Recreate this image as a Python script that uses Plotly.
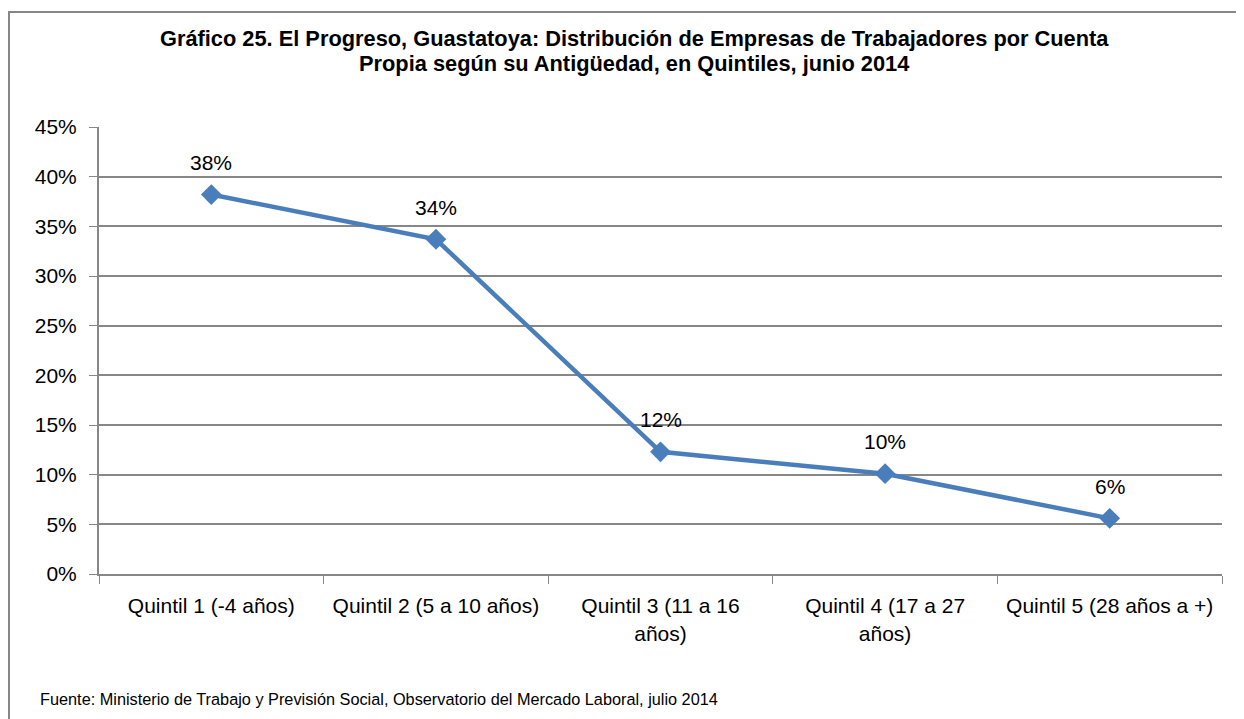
import plotly.graph_objects as go

categories = ["Quintil 1 (-4 años)", "Quintil 2 (5 a 10 años)", "Quintil 3 (11 a 16<br>años)",
              "Quintil 4 (17 a 27<br>años)", "Quintil 5 (28 años a +)"]
values = [0.382, 0.337, 0.123, 0.101, 0.056]
labels = ["38%", "34%", "12%", "10%", "6%"]

title_lines = ["<b>Gráfico 25. El Progreso, Guastatoya: Distribución de Empresas de Trabajadores por Cuenta</b>",
               "<b>Propia según su Antigüedad, en Quintiles, junio 2014</b>"]
source = "Fuente: Ministerio de Trabajo y Previsión Social, Observatorio del Mercado Laboral, julio 2014"

FONT = "Liberation Sans Narrow, Arial Narrow, Liberation Sans, Arial, sans-serif"
OFF = 8  # page body margin
W, H = 1236, 711
# screen coordinates of plot area
SL, SR, ST, SB = 99, 1222, 127, 574
L, T = SL - OFF, ST - OFF
R = W - (SR - OFF)
B = H - (SB - OFF)

pw = W - L - R
ph = H - T - B
def px(x): return (x - OFF - L) / pw
def py(y): return (H - B - (y - OFF)) / ph

fig = go.Figure()
fig.add_trace(go.Scatter(
    x=categories, y=values, mode="lines+markers",
    line=dict(color="#4A7EBB", width=4.5),
    marker=dict(symbol="diamond", size=16, color="#4A7EBB"),
    showlegend=False, hoverinfo="skip"))

for c, v, t in zip(categories, values, labels):
    fig.add_annotation(x=c, y=v, text=t, showarrow=False, yshift=32,
                       font=dict(family=FONT, size=21, color="#000"))

fig.add_shape(type="rect", xref="paper", yref="paper",
              x0=px(9), x1=px(1242), y0=py(725), y1=py(12),
              line=dict(color="#878787", width=2), fillcolor="rgba(0,0,0,0)", layer="below")

for yy, line in zip([38, 63], title_lines):
    fig.add_annotation(xref="paper", yref="paper", x=px(634), y=py(yy), text=line,
                       showarrow=False, xanchor="center", yanchor="middle",
                       font=dict(family=FONT, size=21.8, color="#000"))
fig.add_annotation(xref="paper", yref="paper", x=px(38), y=py(699), text=source,
                   showarrow=False, xanchor="left", yanchor="middle",
                   font=dict(family=FONT, size=16.3, color="#000"))

fig.update_layout(
    width=W, height=H,
    margin=dict(l=L, r=R, t=T, b=B),
    paper_bgcolor="white", plot_bgcolor="white",
    font=dict(family=FONT, size=21, color="#000"),
)
fig.update_xaxes(type="category", range=[-0.5, 4.5], showline=True, linecolor="#878787", linewidth=2,
                 ticks="outside", tickson="boundaries", ticklen=8, tickcolor="#878787", tickwidth=1,
                 showgrid=False, ticklabelstandoff=12,
                 tickfont=dict(family=FONT, size=21, color="#000"))
fig.update_yaxes(range=[0, 0.45], dtick=0.05, tickformat=".0%", showline=True, linecolor="#878787",
                 linewidth=2, ticks="outside", ticklen=8, tickcolor="#878787", tickwidth=1,
                 showgrid=True, gridcolor="#878787", gridwidth=1.5, zeroline=False,
                 ticklabelstandoff=8,
                 tickfont=dict(family=FONT, size=21, color="#000"))

fig.write_html("out.html")
